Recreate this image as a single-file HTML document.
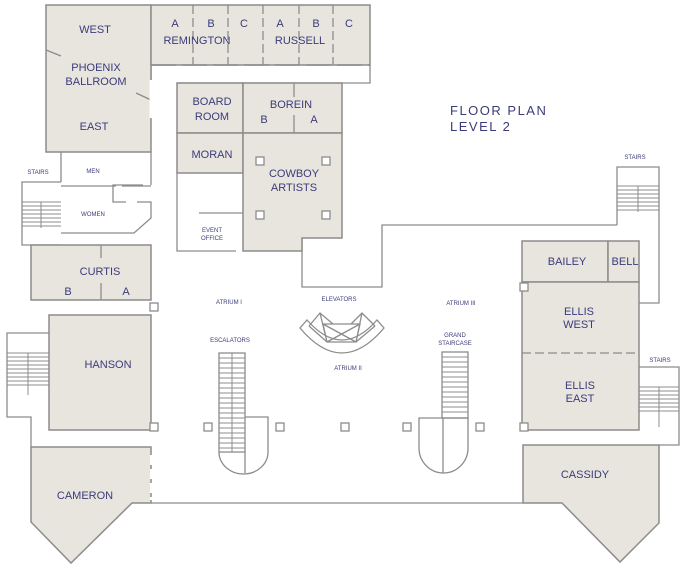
<!DOCTYPE html>
<html><head><meta charset="utf-8"><style>
html,body{margin:0;padding:0;background:#fff;}
svg{display:block;}
text{font-family:"Liberation Sans",sans-serif;fill:#3b3b7a;text-anchor:middle;}
.r{fill:#e8e5df;stroke:#8c8c8c;stroke-width:1.5;}
.w{fill:#fff;stroke:#8c8c8c;stroke-width:1.3;}
.l{fill:none;stroke:#8c8c8c;stroke-width:1.3;}
.d{fill:none;stroke:#8c8c8c;stroke-width:1.3;stroke-dasharray:9 4;}
.s{fill:none;stroke:#8c8c8c;stroke-width:1;}
.b{font-size:11px;}
.m{font-size:6px;}
</style></head><body>
<svg width="685" height="571" viewBox="0 0 685 571" xmlns="http://www.w3.org/2000/svg">
<path class="l" d="M151 65 L151 83 M177 83 L370 83 L370 65 M302 238 L302 287 L382 287 L382 225 L617 225 M639 303 L659 303 L659 167 L617 167 L617 225 M151 503 L523 503"/>
<rect class="r" x="46" y="5" width="105" height="147"/>
<line class="l" x1="46" y1="50" x2="61" y2="56"/><line class="l" x1="136" y1="93" x2="151" y2="100"/>
<line x1="151" y1="80" x2="151" y2="118" stroke="#fff" stroke-width="3"/>
<rect class="r" x="151" y="5" width="219" height="60"/>
<path class="d" d="M193 5V65M228 5V65M263 5V65M299 5V65M333 5V65"/>
<path d="M151 65H370" stroke="#8c8c8c" stroke-width="1.5" stroke-dasharray="25 6"/>
<rect class="r" x="177" y="83" width="66" height="50"/>
<rect class="r" x="243" y="83" width="99" height="50"/>
<line class="l" x1="294" y1="83" x2="294" y2="97"/><line class="l" x1="294" y1="115" x2="294" y2="133"/>
<rect class="r" x="177" y="133" width="66" height="40"/>
<path class="r" d="M243 133H342V238H302V251H243Z"/>
<path class="l" d="M177 173V251H236M199 213H243"/>
<path class="l" d="M61 152V182M61 245H22V182H61M151 152V185M143 185H113V202H126M137 202H151V218L134 233H61"/>
<line class="l" x1="61" y1="186" x2="151" y2="186" stroke-dasharray="55 6"/>
<g class="s"><path d="M22 202H61M22 206H61M22 210H61M22 214H61M22 218H61M22 222H61M22 226H61M41 202V228"/></g>
<rect class="r" x="31" y="245" width="120" height="55"/>
<line class="l" x1="101" y1="245" x2="101" y2="258"/><line class="l" x1="101" y1="283" x2="101" y2="300"/>
<rect class="r" x="49" y="315" width="102" height="115"/>
<path class="l" d="M49 333H7V417H31V447"/>
<g class="s"><path d="M7 353H49M7 357H49M7 361H49M7 365H49M7 369H49M7 373H49M7 377H49M7 381H49M7 385H49M28 353V395"/></g>
<path class="r" d="M31 447H151V503H132L71 563L31 522Z"/>
<line x1="151" y1="455" x2="151" y2="500" stroke="#fff" stroke-width="2" stroke-dasharray="10 4"/>
<rect class="r" x="522" y="241" width="86" height="41"/>
<rect class="r" x="608" y="241" width="31" height="41"/>
<rect class="r" x="522" y="282" width="117" height="148"/>
<line class="d" x1="522" y1="353" x2="639" y2="353"/>
<path class="l" d="M639 367H679V445H659"/>
<g class="s"><path d="M639 387H679M639 391H679M639 395H679M639 399H679M639 403H679M639 407H679M639 411H679M659 387V427"/></g>
<g class="s"><path d="M617 186H659M617 190H659M617 194H659M617 198H659M617 202H659M617 206H659M617 210H659M638 186V212"/></g>
<path class="r" d="M523 445H659V523L620 562L562 503H523Z"/>
<g class="w"><rect x="150" y="303" width="8" height="8"/><rect x="150" y="423" width="8" height="8"/><rect x="204" y="423" width="8" height="8"/><rect x="276" y="423" width="8" height="8"/><rect x="341" y="423" width="8" height="8"/><rect x="403" y="423" width="8" height="8"/><rect x="476" y="423" width="8" height="8"/><rect x="520" y="283" width="8" height="8"/><rect x="520" y="423" width="8" height="8"/>
<rect x="256" y="157" width="8" height="8"/><rect x="322" y="157" width="8" height="8"/><rect x="256" y="211" width="8" height="8"/><rect x="322" y="211" width="8" height="8"/></g>
<rect class="l" x="219" y="353" width="26" height="99"/>
<path class="s" d="M232 353V452M219 358H245M219 363H245M219 368H245M219 373H245M219 378H245M219 383H245M219 388H245M219 393H245M219 398H245M219 403H245M219 408H245M219 413H245M219 418H245M219 423H245M219 428H245M219 433H245M219 438H245M219 443H245M219 448H245"/>
<path class="l" d="M245 417H268V452A24.5 22 0 0 1 219 452M245 452V473"/>
<rect class="l" x="442" y="352" width="26" height="66"/>
<path class="s" d="M442 357H468M442 362H468M442 367H468M442 372H468M442 377H468M442 382H468M442 387H468M442 392H468M442 397H468M442 402H468M442 407H468M442 412H468"/>
<path class="l" d="M419 418H468V448A24.5 25 0 0 1 419 448ZM443 418V473"/>
<!-- elevators -->
<path class="l" d="M300 328Q342 378 384 328L377 320Q342 360 307 320Z"/>
<path class="l" d="M309 326L320 313L333 324M351 324L362 313L375 326M323 324H360L356 342H327ZM309 326L327 342M375 326L356 342M320 313L327 342M362 313L356 342M323 324L356 342M360 324L327 342"/>
<g class="b">
<text x="95" y="33">WEST</text><text x="96" y="71">PHOENIX</text><text x="96" y="85">BALLROOM</text><text x="94" y="130">EAST</text>
<text x="175" y="27">A</text><text x="211" y="27">B</text><text x="244" y="27">C</text><text x="197" y="44">REMINGTON</text>
<text x="280" y="27">A</text><text x="316" y="27">B</text><text x="349" y="27">C</text><text x="300" y="44">RUSSELL</text>
<text x="212" y="105">BOARD</text><text x="212" y="120">ROOM</text>
<text x="291" y="108">BOREIN</text><text x="264" y="123">B</text><text x="314" y="123">A</text>
<text x="212" y="158">MORAN</text><text x="294" y="177">COWBOY</text><text x="294" y="191">ARTISTS</text>
<text x="100" y="275">CURTIS</text><text x="68" y="295">B</text><text x="126" y="295">A</text>
<text x="108" y="368">HANSON</text><text x="85" y="499">CAMERON</text>
<text x="567" y="265">BAILEY</text><text x="625" y="265">BELL</text>
<text x="579" y="315">ELLIS</text><text x="579" y="328">WEST</text>
<text x="580" y="389">ELLIS</text><text x="580" y="402">EAST</text>
<text x="585" y="478">CASSIDY</text>
</g>
<g style="font-size:13px;letter-spacing:1.5px;"><text x="450" y="115" style="text-anchor:start">FLOOR PLAN</text><text x="450" y="131" style="text-anchor:start">LEVEL 2</text></g>
<g class="m">
<text x="38" y="174">STAIRS</text><text x="93" y="173">MEN</text><text x="93" y="216">WOMEN</text>
<text x="212" y="232">EVENT</text><text x="212" y="240">OFFICE</text>
<text x="229" y="304">ATRIUM I</text><text x="339" y="301">ELEVATORS</text><text x="348" y="370">ATRIUM II</text>
<text x="461" y="305">ATRIUM III</text><text x="230" y="342">ESCALATORS</text>
<text x="455" y="337">GRAND</text><text x="455" y="345">STAIRCASE</text>
<text x="635" y="159">STAIRS</text><text x="660" y="362">STAIRS</text>
</g>
</svg>
</body></html>
